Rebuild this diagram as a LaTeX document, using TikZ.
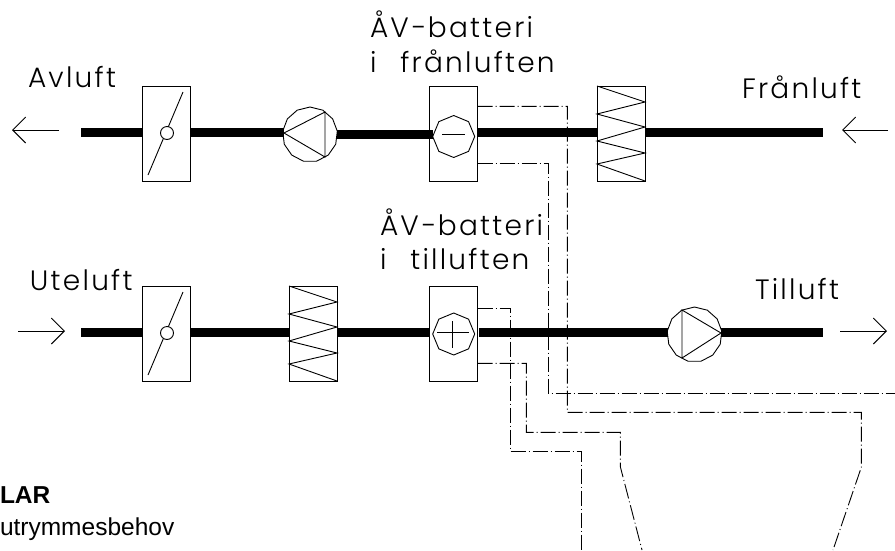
\documentclass[tikz,border=0pt]{standalone}
\usepackage{fontspec}
\setmainfont{Liberation Sans}
\newfontfamily\cadfont[UprightFont=* Light,LetterSpace=8]{Poppins}
\usetikzlibrary{arrows.meta,shapes.geometric}

\begin{document}
\begin{tikzpicture}[x=1pt,y=-1pt,line width=0.9pt,
                    >={Straight Barb[length=13pt,width=26pt]}]
  \tikzstyle{every node}=[inner sep=0pt,outer sep=0pt]
  \tikzstyle{unit}=[draw,rectangle,minimum width=48pt,minimum height=95pt]
  \tikzstyle{fan}=[draw,regular polygon,regular polygon sides=13,minimum size=55pt]
  \tikzstyle{coil}=[draw,regular polygon,regular polygon sides=8,shape border rotate=22.5,minimum size=42pt]
  \tikzstyle{hub}=[draw,circle,minimum size=13pt,fill=white]
  \tikzstyle{duct}=[line width=9pt,black]
  \tikzstyle{pipe}=[dash pattern=on 15pt off 3pt on 1pt off 3pt]
  \tikzstyle{label}=[anchor=base west,font=\cadfont\fontsize{28}{28}\selectfont]
  \tikzstyle{body}=[anchor=base west,font=\fontsize{24.5}{25}\selectfont]

  \useasboundingbox (0,0) rectangle (895,550);
  \clip (0,0) rectangle (895,550);

  % upper row
  \coordinate (A0) at (81,132);
  \node[unit] (A1) at (166,133.5) {};
  \node[fan]  (A2) at (310,134.5) {};
  \node[unit] (A3) at (453.5,133.5) {};
  \node[unit] (A4) at (621,133.5) {};
  \coordinate (A5) at (823,132);
  \node[coil] (A6) at (453.7,136.5) {};

  % lower row
  \coordinate (B0) at (81,332);
  \node[unit] (B1) at (166,333.5) {};
  \node[unit] (B2) at (313,333.5) {};
  \node[unit] (B3) at (453.5,333.5) {};
  \node[fan]  (B4) at (694.5,334.5) {};
  \coordinate (B5) at (823,332);
  \node[coil] (B6) at (453.7,334) {};

  \draw[duct] (A0) -- (A1.west |- A0);
  \draw[duct] (A1.east |- A0) -- (284,132);
  \draw[duct] (A2.east) -- (A6.west |- A2.east);
  \draw[duct] (A3.east |- A0) -- (A4.west |- A0);
  \draw[duct] (A4.east |- A0) -- (A5);
  \draw[duct] (B0) -- (B1.west |- B0);
  \draw[duct] (B1.east |- B0) -- (B2.west |- B0);
  \draw[duct] (B2.east |- B0) -- (B3.west |- B0);
  \draw[duct] (479,332) -- (B4.west |- B0);
  \draw[duct] (B4.east |- B0) -- (B5);

  % dampers
  \draw (148,175) -- (183,92);
  \draw (148,375) -- (183,292);
  \node[hub] (C1) at (167,133) {};
  \node[hub] (C2) at (167,333) {};

  % fans
  \draw (284,133) -- (325,112) -- (325,157) -- cycle;
  \draw (682,310) -- (721,333) -- (682,358) -- cycle;

  % coils
  \draw (442,134.3) -- (465,134.3);
  \draw (437,332) -- (469,332);
  \draw (452.7,321) -- (452.7,348);

  % filters
  \draw (A4.north west) -- (645,102) -- (597,114) -- (645,127) -- (597,141)
        -- (645,153) -- (597,164) -- (A4.south east);
  \draw (B2.north west) -- (337,302) -- (289,314) -- (337,327) -- (289,341)
        -- (337,353) -- (289,364) -- (B2.south east);

  % air flow arrows
  \coordinate (D1) at (59,130);
  \coordinate (D2) at (12,130);
  \coordinate (D3) at (888,130);
  \coordinate (D4) at (842,130);
  \coordinate (D5) at (18,331);
  \coordinate (D6) at (65,331);
  \coordinate (D7) at (840,331);
  \coordinate (D8) at (887,331);
  \draw[->] (D1) -- (D2);
  \draw[->] (D3) -- (D4);
  \draw[->] (D5) -- (D6);
  \draw[->] (D7) -- (D8);

  % control lines
  \coordinate (E1) at (895,393.4);
  \coordinate (E2) at (833,550);
  \coordinate (E3) at (581.4,550);
  \coordinate (E4) at (642,550);
  \draw[pipe] (A3.east |- 0,106.4) -| (567.4,412.4) -- (861.4,412.4) -- (861.4,467) -- (E2);
  \draw[pipe] (A3.east |- 0,163.4) -| (548.4,393.4) -- (E1);
  \draw[pipe] (B3.east |- 0,308.4) -| (510.4,451.4) -| (E3);
  \draw[pipe] (B3.east |- 0,363.4) -| (526.4,432.4) -| (620.4,467) -- (E4);

  % texts
  \node[label] (T1) at (28,87) {Avluft};
  \node[label] (T2) at (370,37) {ÅV−batteri};
  \node[label] (T3) at (370,72) {i\hspace{14pt} frånluften};
  \node[label] (T4) at (742,98) {Frånluft};
  \node[label] (T5) at (30,290) {Uteluft};
  \node[label] (T6) at (380,235) {ÅV−batteri};
  \node[label] (T7) at (380,269) {i\hspace{14pt} tilluften};
  \node[label] (T8) at (755,299) {Tilluft};

  \node[body] (T9) at (0,503) {\bfseries LAR};
  \node[body] (T10) at (0,535) {utrymmesbehov};
\end{tikzpicture}
\end{document}
